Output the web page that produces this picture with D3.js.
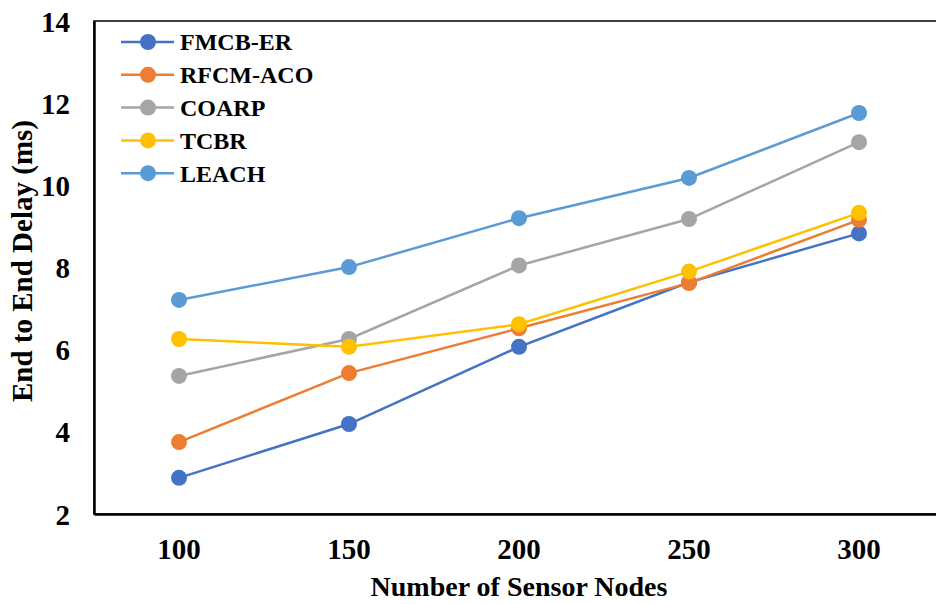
<!DOCTYPE html>
<html><head><meta charset="utf-8">
<script src="https://cdn.jsdelivr.net/npm/d3@7"></script>
<style>body{margin:0;background:#fff}svg{display:block}text{font-family:"Liberation Serif","Times New Roman",serif;font-weight:bold;fill:#000}</style>
</head><body>
<script>
const categories = [100, 150, 200, 250, 300];
const seriesNames = ["FMCB-ER", "RFCM-ACO", "COARP", "TCBR", "LEACH"];
const fmcbEr  = [2.88, 4.19, 6.07, 7.64, 8.83];
const rfcmAco = [3.75, 5.43, 6.52, 7.62, 9.16];
const coarp   = [5.36, 6.26, 8.05, 9.18, 11.05];
const tcbr    = [6.26, 6.07, 6.62, 7.90, 9.33];
const leach   = [7.21, 8.01, 9.20, 10.18, 11.76];
const yTicks = [2, 4, 6, 8, 10, 12, 14];
const colors = ["#4472C4", "#ED7D31", "#A5A5A5", "#FFC000", "#5B9BD5"];
const seriesValues = [fmcbEr, rfcmAco, coarp, tcbr, leach];

const W = 936, H = 604;
const m = {left: 94, top: 21, right: 944, bottom: 514};
const svg = d3.select("body").append("svg").attr("width", W).attr("height", H);

const x = d3.scaleBand().domain(categories).range([m.left, m.right]);
const y = d3.scaleLinear().domain([2, 14]).range([m.bottom, m.top]);

// frame
svg.append("rect").attr("x", m.left).attr("y", m.top).attr("width", m.right - m.left).attr("height", m.bottom - m.top)
  .attr("fill", "none").attr("stroke", "#000").attr("stroke-width", 1.5);

// axes
const yAxis = svg.append("g").attr("transform", `translate(${m.left},0)`)
  .call(d3.axisLeft(y).tickValues(yTicks).tickSize(0).tickPadding(24));
yAxis.select(".domain").attr("stroke", "#000").attr("stroke-width", 2.5);
yAxis.selectAll("text").style("font-size", "29px").attr("dy", "0.35em");

const xAxis = svg.append("g").attr("transform", `translate(0,${m.bottom})`)
  .call(d3.axisBottom(x).tickSize(0).tickPadding(24));
xAxis.select(".domain").attr("stroke", "#000").attr("stroke-width", 2.5);
xAxis.selectAll("text").style("font-size", "29px");

// titles
svg.append("text").attr("x", 519).attr("y", 596).attr("text-anchor", "middle")
  .style("font-size", "28px").text("Number of Sensor Nodes");
svg.append("text").attr("transform", "translate(32,261) rotate(-90)").attr("text-anchor", "middle")
  .style("font-size", "29px").text("End to End Delay (ms)");

// series
const line = d3.line().x((d, i) => x(categories[i]) + x.bandwidth() / 2).y(d => y(d));
seriesValues.forEach((vals, s) => {
  const g = svg.append("g");
  g.append("path").datum(vals).attr("d", line).attr("fill", "none")
    .attr("stroke", colors[s]).attr("stroke-width", 2.5);
  g.selectAll("circle").data(vals).join("circle")
    .attr("cx", (d, i) => x(categories[i]) + x.bandwidth() / 2)
    .attr("cy", d => y(d)).attr("r", 8).attr("fill", colors[s]);
});

// legend
const lg = svg.append("g");
seriesNames.forEach((n, i) => {
  const ly = 42 + i * 32.8;
  lg.append("line").attr("x1", 121).attr("x2", 174).attr("y1", ly).attr("y2", ly)
    .attr("stroke", colors[i]).attr("stroke-width", 2.5);
  lg.append("circle").attr("cx", 148).attr("cy", ly).attr("r", 8).attr("fill", colors[i]);
  lg.append("text").attr("x", 180).attr("y", ly).attr("dy", "0.35em").style("font-size", "24px").text(n);
});
</script>
</body></html>
